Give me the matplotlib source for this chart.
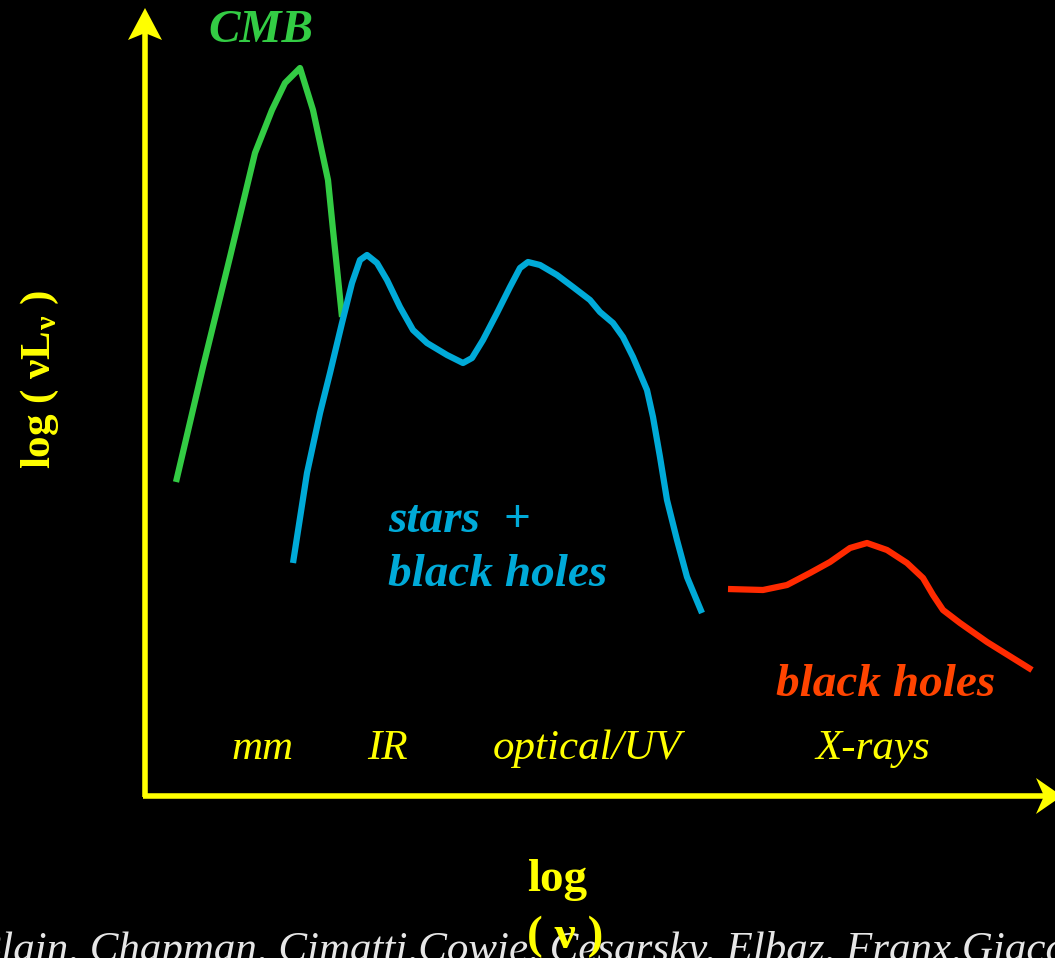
import matplotlib
matplotlib.use("Agg")
import matplotlib.pyplot as plt
from matplotlib.patches import Polygon

plt.rcParams["mathtext.fontset"] = "custom"
plt.rcParams["mathtext.rm"] = "Liberation Serif"
plt.rcParams["mathtext.bf"] = "Liberation Serif:bold"

cmb_x = [176, 203, 230, 255, 272, 285, 300, 313, 328, 333, 342]
cmb_y = [482, 367, 257, 153, 110, 83, 68, 110, 180, 230, 317]

stars_x = [293, 307, 320, 330, 342, 352, 360, 367, 377, 387, 400, 413, 427, 447, 463,
           472, 483, 497, 510, 520, 528, 540, 557, 573, 590, 600, 613, 623, 633, 647,
           653, 660, 667, 677, 687, 702]
stars_y = [563, 473, 413, 373, 323, 283, 260, 255, 263, 280, 307, 330, 343, 355, 363,
           358, 340, 313, 287, 268, 262, 265, 275, 287, 300, 312, 323, 337, 357, 390,
           417, 457, 500, 540, 577, 613]

bh_x = [728, 763, 787, 810, 830, 850, 867, 887, 907, 923, 933, 943, 960, 987, 1032]
bh_y = [589, 590, 585, 573, 562, 548, 543, 550, 563, 578, 595, 610, 623, 642, 670]

band_labels = ["mm", "IR", "optical/UV", "X-rays"]
band_x = [262, 387, 587, 873]

W, H = 1055, 958
fig = plt.figure(figsize=(W / 100, H / 100), dpi=100, facecolor="black")
ax = fig.add_axes([0, 0, 1, 1])
ax.set_facecolor("black")
ax.set_xlim(0, W)
ax.set_ylim(H, 0)
ax.axis("off")

serif = ["Liberation Serif", "DejaVu Serif"]
yellow = "#ffff00"

# bottom credit line (drawn first, partly hidden)
ax.text(-25, 951, "Blain, Chapman, Cimatti,Cowie, Cesarsky, Elbaz, Franx,Giacconi",
        color="#e6e6e6", fontsize=31, fontstyle="italic", family=serif, ha="left", va="center",
        zorder=0, clip_on=False)

# axes arrows
ax.plot([145, 145], [797, 30], color=yellow, lw=4, solid_capstyle="butt")
ax.plot([143, 1045], [796, 796], color=yellow, lw=4, solid_capstyle="butt")
ax.add_patch(Polygon([(145, 8), (128, 40), (145, 33), (162, 40)], closed=True,
                     facecolor=yellow, edgecolor="none"))
ax.add_patch(Polygon([(1062, 796), (1036, 778), (1044, 796), (1036, 814)], closed=True,
                     facecolor=yellow, edgecolor="none"))

ax.plot(cmb_x, cmb_y, color="#33cc44", lw=4.5, solid_capstyle="butt", solid_joinstyle="round")
ax.plot(stars_x, stars_y, color="#00aad8", lw=4.5, solid_capstyle="butt", solid_joinstyle="round")
ax.plot(bh_x, bh_y, color="#ff2a00", lw=4.5, solid_capstyle="butt", solid_joinstyle="round")

ax.text(261, 31, "CMB", color="#33cc44", fontsize=34, fontweight="bold", fontstyle="italic",
        family=serif, ha="center", va="center")
ax.text(388, 521, "stars  +", color="#00aad8", fontsize=34, fontweight="bold", fontstyle="italic",
        family=serif, ha="left", va="center")
ax.text(388, 575, "black holes", color="#00aad8", fontsize=34, fontweight="bold", fontstyle="italic",
        family=serif, ha="left", va="center")
ax.text(886, 685, "black holes", color="#ff4400", fontsize=34, fontweight="bold", fontstyle="italic",
        family=serif, ha="center", va="center")

for lab, x in zip(band_labels, band_x):
    ax.text(x, 749, lab, color=yellow, fontsize=31, fontstyle="italic", family=serif,
            ha="center", va="center")

ax.text(557, 880, "log", color=yellow, fontsize=34, fontweight="bold", family=serif,
        ha="center", va="center")
ax.text(565, 937, "( ν )", color=yellow, fontsize=34, fontweight="bold", family=serif,
        ha="center", va="center", zorder=5)
ax.text(40, 380, "log ( νL$_\\mathbf{ν}$ )", color=yellow, fontsize=31, fontweight="bold",
        family=serif, ha="center", va="center", rotation=90)

fig.savefig("out.png", dpi=100, facecolor="black")
